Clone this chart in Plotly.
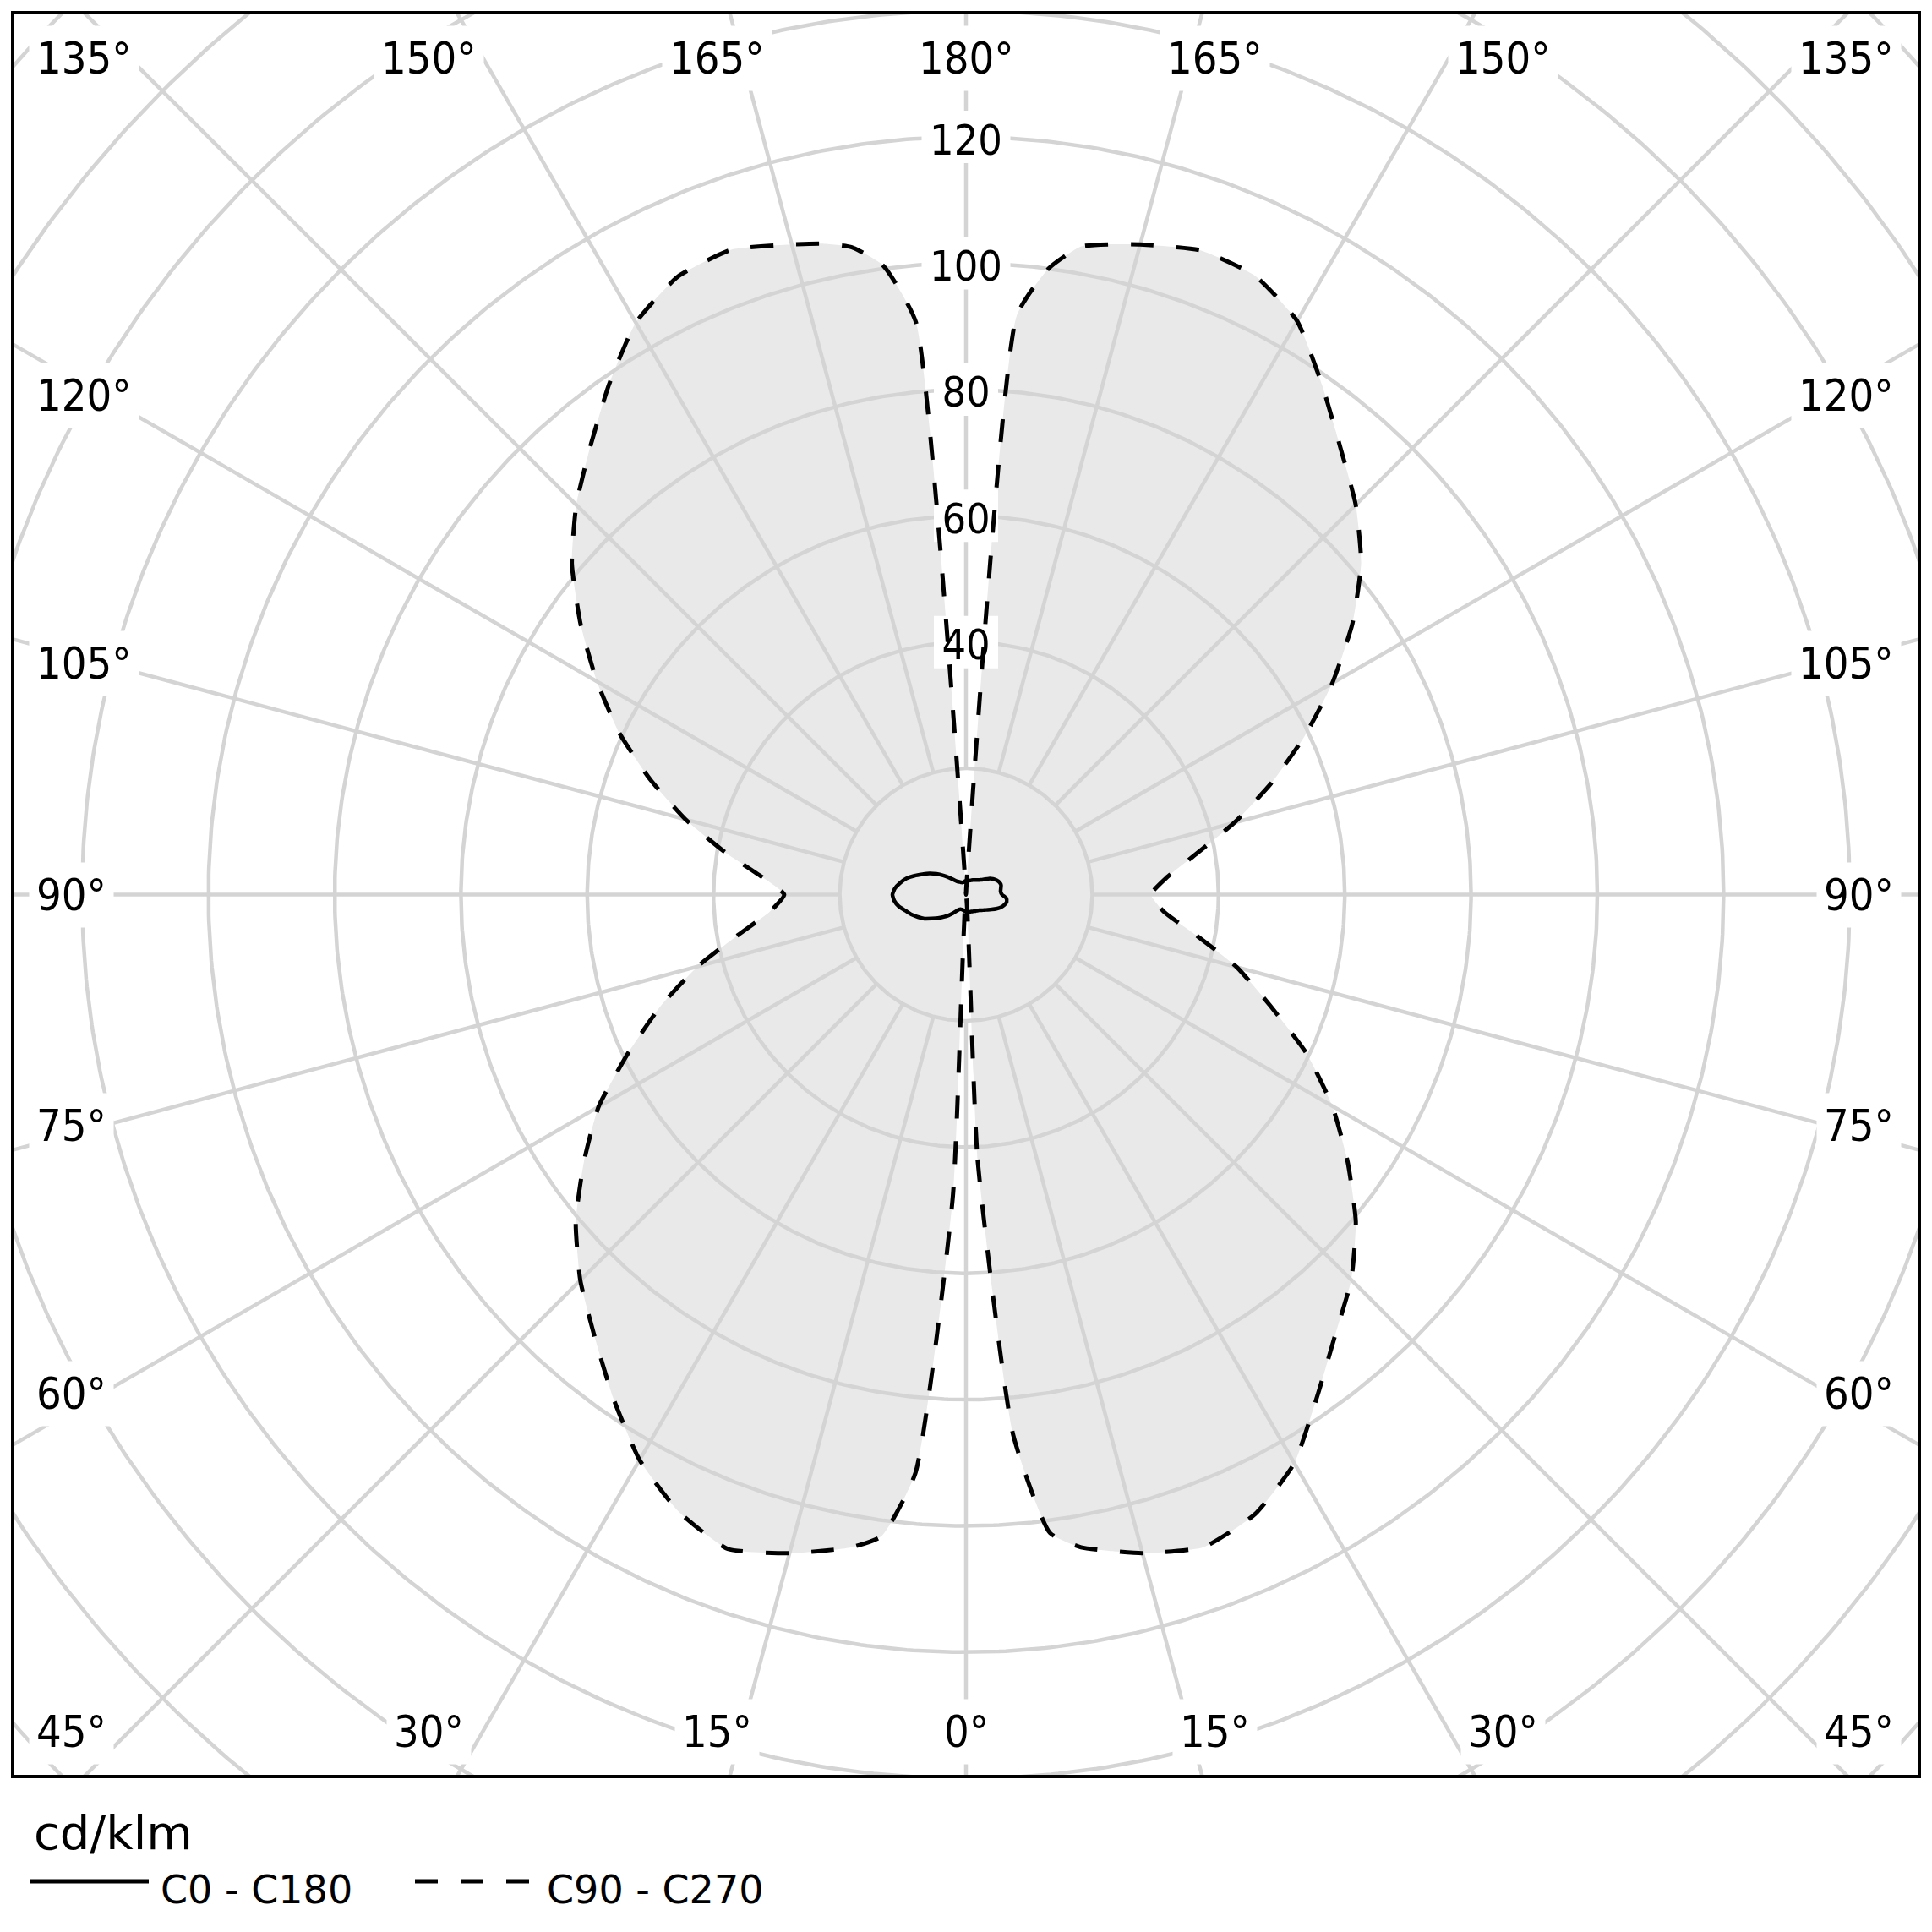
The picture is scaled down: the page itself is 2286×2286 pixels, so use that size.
import numpy as np
import plotly.graph_objects as go

# ---------------- data ----------------
GAMMA = [0, 2.5, 5, 7.5, 10, 12.5, 15, 20, 25, 30, 35, 40, 45, 50, 55, 60, 65, 70, 75, 80, 85,
         90, 95, 100, 105, 110, 115, 120, 125, 130, 135, 140, 145, 150, 155, 160, 165,
         167.5, 170, 172.5, 175, 177.5, 180]

# C0 - C180 plane (solid); C0 drawn on the right, C180 on the left
C0 = [2.65, 2.7, 2.7, 2.7, 2.75, 2.8, 2.8, 2.85, 2.9, 3.0, 3.1, 3.25, 3.5, 3.8, 4.2, 4.7, 5.3, 5.9, 6.3, 6.55, 6.4,
      5.7, 5.5, 5.6, 5.75, 5.65, 5.35, 4.95, 4.4, 3.75, 3.3, 3.0, 2.8, 2.65, 2.55, 2.4, 2.3,
      2.25, 2.2, 2.2, 2.2, 2.2, 2.2]
C180 = [2.65, 2.6, 2.6, 2.55, 2.5, 2.45, 2.45, 2.45, 2.6, 3.0, 3.6, 4.3, 5.0, 5.8, 6.6, 7.6, 8.4, 9.2, 9.9, 10.8, 11.4,
        11.65, 11.3, 10.6, 9.8, 8.7, 7.6, 6.7, 5.7, 4.7, 3.8, 3.1, 2.6, 2.35, 2.2, 2.05, 2.0,
        2.0, 2.0, 2.0, 2.1, 2.15, 2.2]

# C90 - C270 plane (dashed, filled); C90 on the right, C270 on the left
C90 = [0, 42, 86, 102, 105, 106.5, 108, 110, 108.3, 104, 97, 91, 86.3, 80.6, 73.8, 67, 59.5, 51.2, 44.4, 37, 31.5,
       29.3, 32, 37, 44, 51.4, 59.1, 67, 74.7, 81.7, 87.3, 92.3, 98.4, 104.9, 108.2, 108.6, 106.6,
       105.5, 104.2, 100, 92, 1, 0]
C270 = [0, 48, 92, 102.5, 105, 106.5, 108, 110.3, 107.8, 103.4, 97.4, 91.5, 86.4, 80.7, 73.9, 67.2, 58.9, 51.4, 44, 36.6, 31.2,
        28.8, 32.5, 38.8, 46, 53.2, 60.6, 67.5, 74.5, 81.5, 87.3, 92.6, 98.6, 104.6, 108, 108.7, 106.6,
        105.6, 104.1, 100.5, 91, 1, 0]

RINGS = [20, 40, 60, 80, 100, 120, 140, 160, 180, 200]
RING_LABELS = [40, 60, 80, 100, 120]
SPOKES = list(range(0, 360, 15))
ANGLE_LABELS = [0, 15, 30, 45, 60, 75, 90, 105, 120, 135, 150, 165, 180]
UNIT_LABEL = "cd/klm"
NAME_SOLID = "C0 - C180"
NAME_DASHED = "C90 - C270"

# ---------------- layout geometry ----------------
W = H = 2286
ML, MR, MT, MB = 15, 15, 15, 184
PW, PH = W - ML - MR, H - MT - MB
PX = 7.47                      # pixels per cd/klm
XR, YR = PW / 2 / PX, PH / 2 / PX
CX, CY = ML + PW / 2, MT + PH / 2

GRID = "#d4d4d4"
FILL = "#e9e9e9"
LABEL_FONT = "DejaVu Sans Condensed, DejaVu Sans, sans-serif"
LEG_FONT = "DejaVu Sans, sans-serif"
RLAB_SIZE = 50
RLAB_SHIFT = 8 / PX            # text baseline correction (pixels -> data units)


def polar_xy(gam, val, side):
    g = np.radians(np.asarray(gam, dtype=float))
    r = np.asarray(val, dtype=float)
    return side * r * np.sin(g), -r * np.cos(g)


def closed_curve(right, left):
    xr_, yr_ = polar_xy(GAMMA, right, 1)
    xl_, yl_ = polar_xy(GAMMA, left, -1)
    # right half 0..180, then left half 180..0 (shared pole points not repeated)
    x = np.concatenate([xr_, xl_[::-1][1:-1]])
    y = np.concatenate([yr_, yl_[::-1][1:-1]])
    return np.append(x, x[0]), np.append(y, y[0])


fig = go.Figure()

# fill of the C90-C270 curve
dx, dy = closed_curve(C90, C270)
SMOOTH = 0.5
fig.add_trace(go.Scatter(x=dx, y=dy, mode="lines", fill="toself", fillcolor=FILL,
                         line=dict(width=0, color=FILL, shape="spline", smoothing=SMOOTH),
                         hoverinfo="skip", showlegend=False))

# grid rings
t = np.linspace(0, 2 * np.pi, 721)
gx, gy = [], []
for r in RINGS:
    gx += list(r * np.cos(t)) + [None]
    gy += list(r * np.sin(t)) + [None]
# spokes (from the first ring outward)
for a in SPOKES:
    ar = np.radians(a)
    gx += [RINGS[0] * np.sin(ar), 400 * np.sin(ar), None]
    gy += [-RINGS[0] * np.cos(ar), -400 * np.cos(ar), None]
fig.add_trace(go.Scatter(x=gx, y=gy, mode="lines", line=dict(color=GRID, width=4.5),
                         hoverinfo="skip", showlegend=False))

# white boxes behind the radial value labels (below the curves, as in the reference)
for v in RING_LABELS:
    hw = (len(str(v)) * 0.58 * RLAB_SIZE + 18) / 2 / PX
    hh = 31 / PX
    fig.add_trace(go.Scatter(x=[-hw, hw, hw, -hw, -hw], y=[v - hh, v - hh, v + hh, v + hh, v - hh],
                             mode="lines", fill="toself", fillcolor="white",
                             line=dict(width=0, color="white"), hoverinfo="skip", showlegend=False))
fig.add_trace(go.Scatter(x=[0] * len(RING_LABELS), y=[v - RLAB_SHIFT for v in RING_LABELS], mode="text",
                         text=[str(v) for v in RING_LABELS], textposition="middle center",
                         textfont=dict(family=LABEL_FONT, size=RLAB_SIZE, color="black"),
                         hoverinfo="skip", showlegend=False, cliponaxis=False))

# curves
fig.add_trace(go.Scatter(x=dx, y=dy, mode="lines", name=NAME_DASHED,
                         line=dict(color="black", width=5, dash="27px,27px",
                                   shape="spline", smoothing=SMOOTH), showlegend=False))
sx, sy = closed_curve(C0, C180)
fig.add_trace(go.Scatter(x=sx, y=sy, mode="lines", name=NAME_SOLID,
                         line=dict(color="black", width=4.5, shape="spline", smoothing=SMOOTH),
                         showlegend=False))

annotations = []
# angle labels
EDGE_L = (34 - CX) / PX
EDGE_R = (2250 - CX) / PX
ROW_DY = 990 / PX
for a in ANGLE_LABELS:
    for side in ([1] if a in (0, 180) else [-1, 1]):
        txt = f"{a}°"
        if a <= 30 or a >= 150:
            off = np.radians(a if a <= 30 else 180 - a)
            x = side * 1100 * np.tan(off) / PX
            y = -ROW_DY if a <= 30 else ROW_DY
            xa = "center"
        else:
            y = -1022 * np.tan(np.radians(90 - a)) / PX
            if a in (45, 135):
                y = -ROW_DY if a == 45 else ROW_DY
            x = EDGE_L if side < 0 else EDGE_R
            xa = "left" if side < 0 else "right"
        annotations.append(dict(x=x, y=y, xref="x", yref="y", text=txt, showarrow=False,
                                xanchor=xa, yanchor="middle", bgcolor="white", borderpad=8,
                                font=dict(family=LABEL_FONT, size=52, color="black")))


def px2paper(px, py):
    return (px - ML) / PW, 1 - (py - MT) / PH


# legend (drawn manually to match the long line samples)
ux, uy = px2paper(38, 2168)
annotations.append(dict(x=ux, y=uy, xref="paper", yref="paper", text=UNIT_LABEL, showarrow=False,
                        xanchor="left", yanchor="middle", font=dict(family=LEG_FONT, size=56, color="black")))
t1x, t1y = px2paper(188, 2236)
annotations.append(dict(x=t1x, y=t1y, xref="paper", yref="paper", text=NAME_SOLID, showarrow=False,
                        xanchor="left", yanchor="middle", font=dict(family=LEG_FONT, size=46, color="black")))
t2x, t2y = px2paper(645, 2236)
annotations.append(dict(x=t2x, y=t2y, xref="paper", yref="paper", text=NAME_DASHED, showarrow=False,
                        xanchor="left", yanchor="middle", font=dict(family=LEG_FONT, size=46, color="black")))

shapes = []
a0, b0 = px2paper(36, 2226)
a1, _ = px2paper(176, 2226)
shapes.append(dict(type="line", xref="paper", yref="paper", x0=a0, x1=a1, y0=b0, y1=b0,
                   line=dict(color="black", width=5)))
a0, b0 = px2paper(491, 2226)
a1, _ = px2paper(627, 2226)
shapes.append(dict(type="line", xref="paper", yref="paper", x0=a0, x1=a1, y0=b0, y1=b0,
                   line=dict(color="black", width=5, dash="27px,27px")))
# frame
shapes.append(dict(type="rect", xref="paper", yref="paper", x0=0, x1=1, y0=0, y1=1,
                   line=dict(color="black", width=4), layer="above"))

fig.update_layout(
    width=W, height=H, margin=dict(l=ML, r=MR, t=MT, b=MB),
    paper_bgcolor="white", plot_bgcolor="white",
    xaxis=dict(range=[-XR, XR], visible=False, fixedrange=True),
    yaxis=dict(range=[-YR, YR], visible=False, fixedrange=True),
    annotations=annotations, shapes=shapes, showlegend=False,
)

fig.write_html("out.html")
